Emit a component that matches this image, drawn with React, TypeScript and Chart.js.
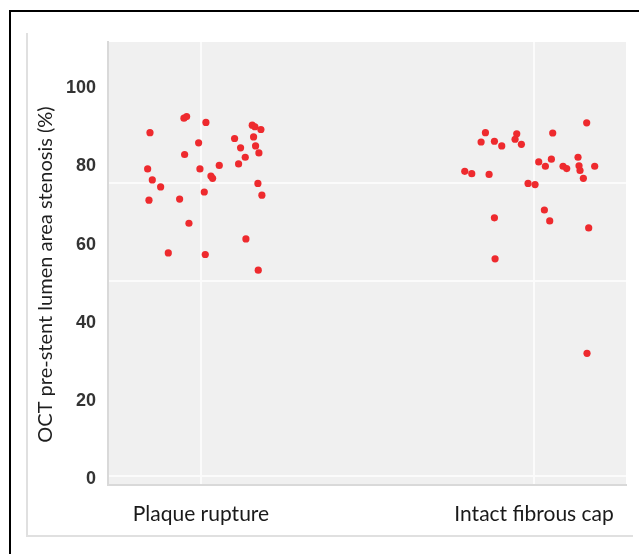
import React, { useEffect, useRef } from "react";
import { Chart, registerables } from "chart.js";
Chart.register(...registerables);

const categories = ["Plaque rupture", "Intact fibrous cap"];
const yTickValues = [0, 20, 40, 60, 80, 100];
const gridValues = [0, 50, 75];
const yTitle = "OCT pre-stent lumen area stenosis (%)";

// jittered category positions (1 = Plaque rupture, 2 = Intact fibrous cap)
const plaqueRuptureX = [0.847, 0.949, 0.957, 1.015, 1.154, 1.162, 1.18, 1.101, 1.158, 0.993, 1.119, 1.164, 0.951, 1.174, 1.133, 1.113, 1.055, 0.84, 0.997, 0.854, 1.03, 1.035, 0.879, 1.171, 1.01, 1.183, 0.844, 0.936, 0.964, 1.135, 0.902, 1.013, 1.172];
const plaqueRuptureY = [87.9, 91.6, 92.0, 90.5, 89.8, 89.4, 88.7, 86.4, 86.8, 85.3, 84.0, 84.5, 82.3, 82.7, 81.6, 79.9, 79.5, 78.6, 78.6, 75.8, 76.8, 76.2, 74.0, 74.9, 72.7, 71.9, 70.6, 70.9, 64.7, 60.7, 57.1, 56.7, 52.7];
const intactCapX = [2.158, 1.854, 1.948, 2.056, 1.841, 1.881, 1.943, 1.903, 1.962, 2.014, 2.052, 2.034, 2.132, 2.087, 2.098, 2.135, 2.138, 2.182, 2.148, 1.792, 1.813, 1.865, 1.982, 2.003, 2.031, 2.047, 1.881, 2.164, 1.883, 2.159];
const intactCapY = [90.4, 87.9, 87.6, 87.8, 85.5, 85.7, 86.2, 84.5, 84.9, 80.4, 81.1, 79.3, 81.6, 79.3, 78.7, 79.4, 78.2, 79.3, 76.2, 78.0, 77.4, 77.2, 74.9, 74.6, 68.1, 65.3, 66.1, 63.5, 55.6, 31.4];

const Y_MIN = -2.3;
const Y_MAX = 111.1;
const LABEL_SHIFT = 0.77;

const bgPlugin = {
  id: "plotBg",
  beforeDraw(chart: any) {
    const { ctx, chartArea } = chart;
    ctx.save();
    ctx.fillStyle = "#f0f0f0";
    ctx.fillRect(chartArea.left, chartArea.top, chartArea.right - chartArea.left, chartArea.bottom - chartArea.top);
    ctx.restore();
  },
};

const yTitlePlugin = {
  id: "yTitleText",
  afterDraw(chart: any) {
    const { ctx, chartArea } = chart;
    ctx.save();
    ctx.translate(46, (chartArea.top + chartArea.bottom) / 2 + 11);
    ctx.rotate(-Math.PI / 2);
    ctx.font = "20px Lato";
    ctx.fillStyle = "#1e1e1e";
    ctx.textAlign = "center";
    ctx.textBaseline = "middle";
    ctx.fillText(yTitle, 0, 0);
    ctx.restore();
  },
};

export default function App() {
  const ref = useRef<HTMLCanvasElement | null>(null);
  useEffect(() => {
    if (!ref.current) return;
    const mk = (xs: number[], ys: number[]) => xs.map((x, i) => ({ x, y: ys[i] }));
    const chart = new Chart(ref.current, {
      type: "scatter",
      data: {
        datasets: [
          { label: categories[0], data: mk(plaqueRuptureX, plaqueRuptureY), backgroundColor: "#ee2a2e", borderWidth: 0, pointRadius: 3.6, yAxisID: "y" },
          { label: categories[1], data: mk(intactCapX, intactCapY), backgroundColor: "#ee2a2e", borderWidth: 0, pointRadius: 3.6, yAxisID: "y" },
        ],
      },
      options: {
        animation: false,
        responsive: false,
        devicePixelRatio: 1,
        layout: { padding: { top: 42, right: 13, left: 0, bottom: 0 } },
        plugins: { legend: { display: false }, tooltip: { enabled: false } },
        scales: {
          x: {
            type: "linear",
            min: 0.721,
            max: 2.276,
            afterBuildTicks: (s: any) => { s.ticks = [{ value: 1 }, { value: 2 }]; },
            afterFit: (s: any) => { s.height = 69; },
            grid: { color: "#fbfbfb", lineWidth: 2, drawTicks: false },
            border: { display: true, color: "#d9d9d9", width: 2 },
            ticks: {
              padding: 17,
              color: "#1a1a1a",
              font: { family: "Lato", size: 21 },
              callback: (v: any) => categories[Math.round(v) - 1] ?? "",
            },
          },
          y: {
            type: "linear",
            position: "left",
            min: Y_MIN,
            max: Y_MAX,
            afterBuildTicks: (s: any) => { s.ticks = gridValues.map((value) => ({ value })); },
            afterFit: (s: any) => { s.width = 0; },
            grid: { color: "#fbfbfb", lineWidth: 2, drawTicks: false },
            border: { display: false },
            ticks: { display: false },
          },
          yl: {
            type: "linear",
            position: "left",
            min: Y_MIN + LABEL_SHIFT,
            max: Y_MAX + LABEL_SHIFT,
            afterBuildTicks: (s: any) => { s.ticks = yTickValues.map((value) => ({ value })); },
            afterFit: (s: any) => { s.width = 108; },
            grid: { display: false, drawTicks: false },
            border: { display: true, color: "#d9d9d9", width: 2 },
            ticks: {
              padding: 12,
              color: "#333333",
              font: { family: "Liberation Sans", size: 18, weight: "bold" },
            },
          },
        },
      },
      plugins: [bgPlugin, yTitlePlugin],
    } as any);
    return () => chart.destroy();
  }, []);

  return (
    <div style={{ position: "fixed", left: 0, top: 0, width: 639, height: 554, overflow: "hidden", background: "#fff" }}>
      <div style={{ position: "absolute", left: 9, top: 10, width: 630, height: 544, boxSizing: "border-box", borderTop: "2px solid #000", borderLeft: "2px solid #000" }} />
      <div style={{ position: "absolute", left: 26, top: 33, width: 607, height: 504, boxSizing: "border-box", borderLeft: "2px solid #e0e0e0", borderBottom: "2px solid #e0e0e0" }} />
      <canvas ref={ref} width={639} height={554} style={{ position: "absolute", left: 0, top: 0, width: 639, height: 554 }} />
    </div>
  );
}
